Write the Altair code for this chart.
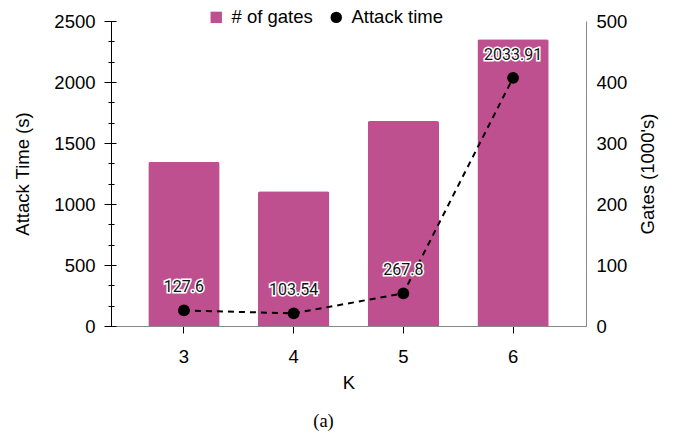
import altair as alt
import pandas as pd

K = [3, 4, 5, 6]
attack_time = [127.6, 103.54, 267.8, 2033.91]
gates = [269, 221, 336, 470]
attack_labels = ["127.6", "103.54", "267.8", "2033.91"]
series_names = ["# of gates", "Attack time"]
major_ticks = [0, 500, 1000, 1500, 2000, 2500]
right_ticks = [0, 100, 200, 300, 400, 500]

df = pd.DataFrame({
    "K": K,
    "attack": attack_time,
    "gates": gates,
    "label": attack_labels,
    "s_bar": [series_names[0]] * 4,
    "s_pt": [series_names[1]] * 4,
})

PINK = "#BF508F"
W, H = 475, 305
FONT = "Liberation Sans"
FS = 18.5

color_scale = alt.Scale(domain=series_names, range=[PINK, "black"])
shape_scale = alt.Scale(domain=series_names, range=["square", "circle"])
yscale = alt.Scale(domain=[0, 2500])

xenc = alt.X("K:O", title="K",
             scale=alt.Scale(paddingInner=0.35, paddingOuter=0.34),
             axis=alt.Axis(labelAngle=0, domainColor="#888", tickColor="black",
                           tickSize=7, labelPadding=14, titlePadding=8,
                           labelFontSize=FS, titleFontSize=FS, labelFont=FONT,
                           titleFont=FONT, titleFontWeight="normal",
                           labelColor="black", titleColor="black"))

bars = alt.Chart(df).mark_bar(cornerRadiusTopLeft=2, cornerRadiusTopRight=2).encode(
    x=xenc,
    y=alt.Y("gates:Q", title="Gates (1000's)",
            scale=alt.Scale(domain=[0, 500]),
            axis=alt.Axis(orient="right", values=right_ticks, format="d",
                          ticks=False, grid=False, domainColor="#888",
                          labelPadding=10, titlePadding=12, titleAngle=270,
                          titleBaseline="top",
                          labelFontSize=FS, titleFontSize=FS, labelFont=FONT,
                          titleFont=FONT, titleFontWeight="normal",
                          labelColor="black", titleColor="black")),
    color=alt.Color("s_bar:N", scale=color_scale, title=None,
                    legend=alt.Legend(orient="none", direction="horizontal",
                                      legendX=96, legendY=-13,
                                      labelFontSize=FS, labelFont=FONT,
                                      labelColor="black", symbolSize=130,
                                      columnPadding=14, labelOffset=6)),
)

line = alt.Chart(df).mark_line(color="black", strokeDash=[6, 5], strokeWidth=2).encode(
    x=alt.X("K:O"),
    y=alt.Y("attack:Q", scale=yscale, title=None,
            axis=alt.Axis(orient="left", values=major_ticks, format="d",
                          domain=False, grid=False, tickSize=12, offset=-5,
                          tickColor="black", tickWidth=1, labelPadding=9,
                          labelFontSize=FS, labelFont=FONT, labelColor="black")),
)

minor_vals = [v for v in [i * 500 / 3 for i in range(16)] if round(v) % 500 != 0]

points = alt.Chart(df).mark_point(filled=True, size=140, opacity=1).encode(
    x=alt.X("K:O"),
    y=alt.Y("attack:Q", scale=yscale, title=None,
            axis=alt.Axis(orient="left", values=minor_vals, domain=False, grid=False,
                          labels=False, tickSize=6, offset=-3, tickColor="black",
                          tickWidth=1)),
    color=alt.Color("s_pt:N", scale=color_scale, title=None),
    shape=alt.Shape("s_pt:N", scale=shape_scale, title=None),
)

halo = alt.Chart(df).mark_text(dy=-23, font="Roboto", fontSize=16, stroke="white",
                               strokeWidth=3, fill="white").encode(
    x=alt.X("K:O"),
    y=alt.Y("attack:Q", scale=yscale, title="Attack Time (s)",
            axis=alt.Axis(orient="left", domain=True, domainColor="black",
                          domainWidth=1, ticks=False, labels=False, grid=False,
                          titlePadding=79, titleFontSize=FS, titleFont=FONT,
                          titleFontWeight="normal", titleColor="black")),
    text="label:N",
)

labels = alt.Chart(df).mark_text(dy=-23, font="Roboto", fontSize=16, color="#111").encode(
    x=alt.X("K:O"),
    y=alt.Y("attack:Q", scale=yscale, axis=None),
    text="label:N",
)

chart = alt.layer(bars, line, points, halo, labels).resolve_scale(y="independent").properties(
    width=W, height=H,
    padding={"left": 5, "top": 0, "right": 5, "bottom": 5},
    title=alt.Title("(a)", orient="bottom", anchor="middle", font="Liberation Serif",
                    fontSize=FS, fontWeight="normal", color="black", offset=20, dx=-25),
).configure_view(stroke=None).configure_axis(grid=False)

chart.save("out.html", embed_options={"renderer": "svg", "actions": False})
